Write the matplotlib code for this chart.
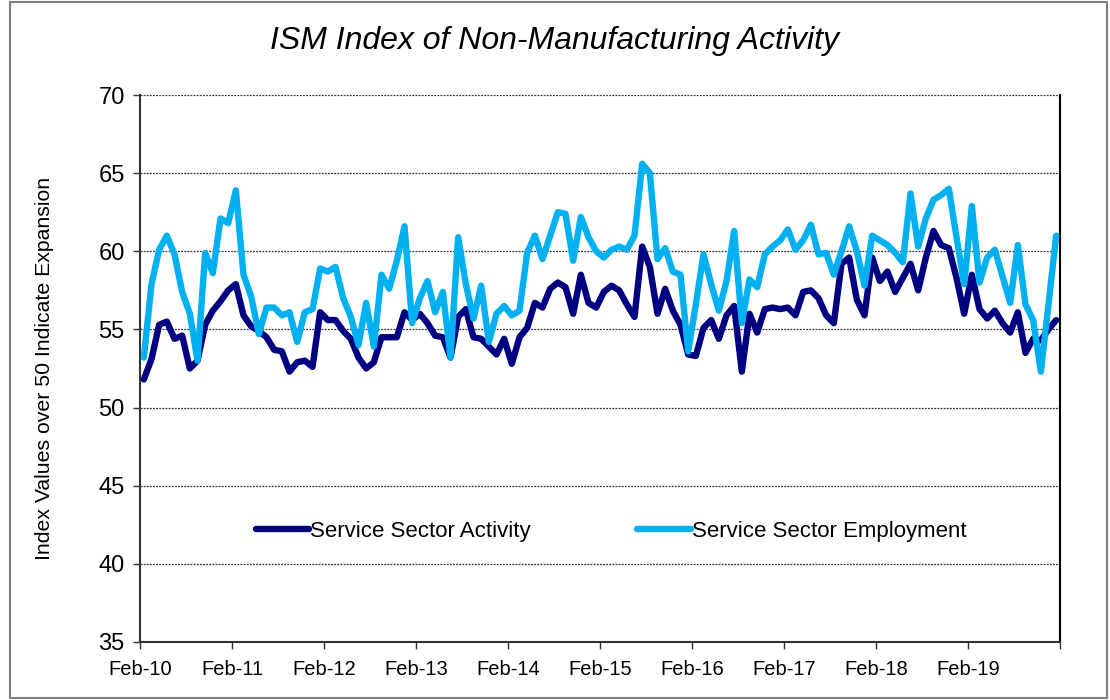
import matplotlib
matplotlib.use("Agg")
import matplotlib.pyplot as plt
from matplotlib.patches import Rectangle

plt.rcParams['font.family'] = ['Liberation Sans', 'DejaVu Sans']

title = "ISM Index of Non-Manufacturing Activity"
y_label = "Index Values over 50 Indicate Expansion"
series_names = ["Service Sector Activity", "Service Sector Employment"]
tick_labels = ["Feb-10", "Feb-11", "Feb-12", "Feb-13", "Feb-14",
               "Feb-15", "Feb-16", "Feb-17", "Feb-18", "Feb-19"]

# Monthly values Feb-10 .. Jan-20
activity = [
    51.8, 53.1, 55.3, 55.5, 54.4, 54.6, 52.5, 53.0, 55.3, 56.2, 56.8, 57.5,
    57.9, 55.9, 55.2, 54.9, 54.5, 53.7, 53.6, 52.3, 52.9, 53.0, 52.6, 56.1,
    55.6, 55.6, 54.9, 54.4, 53.2, 52.5, 52.9, 54.5, 54.5, 54.5, 56.1, 55.6,
    56.0, 55.4, 54.6, 54.5, 53.2, 55.8, 56.3, 54.5, 54.4, 53.9, 53.4, 54.4,
    52.8, 54.5, 55.1, 56.7, 56.4, 57.6, 58.0, 57.7, 56.0, 58.5, 56.7, 56.4,
    57.4, 57.8, 57.5, 56.6, 55.8, 60.3, 59.0, 56.0, 57.6, 56.2, 55.3, 53.4,
    53.3, 55.1, 55.6, 54.4, 55.9, 56.5, 52.3, 56.0, 54.8, 56.3, 56.4, 56.3,
    56.4, 55.9, 57.4, 57.5, 57.0, 55.9, 55.4, 59.2, 59.6, 56.9, 55.9, 59.6,
    58.1, 58.7, 57.4, 58.3, 59.2, 57.5, 59.6, 61.3, 60.4, 60.2, 58.3, 56.0,
    58.5, 56.3, 55.7, 56.2, 55.4, 54.8, 56.1, 53.5, 54.4, 54.3, 55.0, 55.6,
]
employment = [
    53.2, 57.9, 60.1, 61.0, 59.8, 57.4, 56.0, 53.0, 59.9, 58.6, 62.1, 61.8,
    63.9, 58.5, 57.1, 54.7, 56.4, 56.4, 55.9, 56.1, 54.2, 56.1, 56.3, 58.9,
    58.7, 59.0, 57.0, 55.8, 54.0, 56.7, 53.9, 58.5, 57.6, 59.4, 61.6, 55.4,
    57.0, 58.1, 56.1, 57.4, 53.2, 60.9, 57.9, 55.7, 57.8, 54.2, 56.0, 56.5,
    55.9, 56.2, 59.9, 61.0, 59.5, 61.0, 62.5, 62.4, 59.4, 62.2, 60.9, 60.0,
    59.6, 60.1, 60.3, 60.1, 61.0, 65.6, 65.0, 59.5, 60.2, 58.7, 58.5, 53.6,
    56.6, 59.8, 57.9, 56.2, 58.1, 61.3, 55.4, 58.2, 57.7, 59.8, 60.3, 60.7,
    61.4, 60.1, 60.7, 61.7, 59.8, 59.9, 58.5, 60.0, 61.6, 60.0, 57.8, 61.0,
    60.7, 60.4, 59.9, 59.3, 63.7, 60.3, 62.1, 63.3, 63.6, 64.0, 60.9, 57.9,
    62.9, 58.0, 59.6, 60.1, 58.4, 56.7, 60.4, 56.6, 55.6, 52.3, 56.6, 61.0,
]

n = len(activity)
x = [i + 0.5 for i in range(n)]

fig = plt.figure(figsize=(11.1, 7.0), dpi=100)
ax = fig.add_axes([140 / 1110, 58 / 700, 920 / 1110, 547 / 700])

ax.plot(x, activity, color="#000080", lw=4.6, solid_joinstyle="round",
        solid_capstyle="round", label=series_names[0], zorder=3)
ax.plot(x, employment, color="#00B0F0", lw=4.6, solid_joinstyle="round",
        solid_capstyle="round", label=series_names[1], zorder=3)

ax.set_xlim(0, 120)
ax.set_ylim(35, 70)
ax.set_yticks(range(35, 71, 5))
ax.set_xticks(range(0, 121, 12))
ax.set_xticklabels(tick_labels + [""])
ax.tick_params(axis="both", labelsize=14.5, direction="out", length=5,
               width=1, color="#333333")
ax.tick_params(axis="x", pad=8)
ax.tick_params(axis="y", pad=6)
ax.tick_params(axis="y", labelsize=17)

for v in range(40, 71, 5):
    ax.axhline(v, color="#333333", lw=0.9, ls=(0, (1.5, 1)), zorder=1)

for s in ["left", "bottom"]:
    ax.spines[s].set_color("#333333")
    ax.spines[s].set_linewidth(1.5)
ax.spines["right"].set_color("black")
ax.spines["right"].set_linewidth(1.5)
ax.spines["top"].set_visible(False)

ax.set_ylabel(y_label, fontsize=15.3)
ax.yaxis.set_label_coords(-0.094, 0.5)

leg = ax.legend(loc="center", bbox_to_anchor=(0.512, (642 - 531) / 547),
                ncol=2, frameon=False, fontsize=16, handlelength=2.4,
                handletextpad=0.05, columnspacing=4.8)

fig.text(0.5, 1 - 41 / 700, title, ha="center", va="center",
         fontsize=23, style="italic")

fig.patches.append(Rectangle((10 / 1110, 2 / 700), 1097 / 1110, 696 / 700,
                             transform=fig.transFigure, fill=False,
                             edgecolor="#808080", lw=1.5))

fig.savefig("out.png", dpi=100)
